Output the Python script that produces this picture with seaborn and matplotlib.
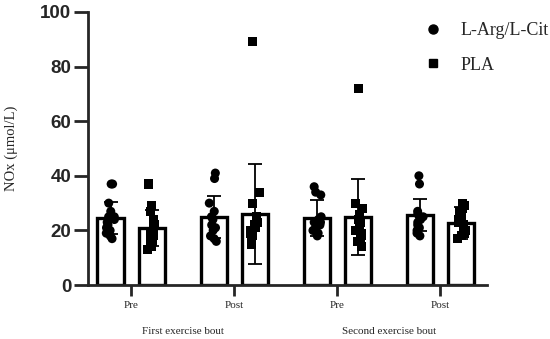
import numpy as np
import pandas as pd
import matplotlib.pyplot as plt
import seaborn as sns
from matplotlib.lines import Line2D

sns.set_style("ticks")
plt.rcParams['font.family'] = ['Liberation Serif', 'DejaVu Sans']

# kategoriler ve gruplar
zamanlar = ["B1 Pre", "B1 Post", "B2 Pre", "B2 Post"]
etiketler = ["Pre", "Post", "Pre", "Post"]
gruplar = ["L-Arg/L-Cit", "PLA"]

# ortalamalar ve standart sapmalar
ort_arg = [24.5, 24.9, 24.5, 25.6]
ort_pla = [20.9, 26.0, 24.9, 22.7]
sd_arg = [5.9, 7.7, 6.5, 5.9]
sd_pla = [6.6, 18.2, 13.8, 6.0]

# bireysel noktalar
arg_b1_pre = [37, 37, 30, 27, 25, 24, 23, 22, 21, 20, 19, 18, 17, 25]
pla_b1_pre = [37, 29, 27, 24, 22, 21, 20, 19, 18, 17, 16, 15, 14, 13]
arg_b1_post = [41, 39, 30, 27, 25, 24, 22, 21, 20, 18, 17, 16, 25]
pla_b1_post = [89, 34, 30, 25, 24, 23, 22, 21, 20, 19, 18, 17, 16, 15]
arg_b2_pre = [36, 34, 33, 25, 24, 23, 22, 21, 20, 19, 18, 20, 23]
pla_b2_pre = [72, 30, 28, 26, 24, 22, 20, 19, 18, 17, 16, 14, 23]
arg_b2_post = [40, 37, 27, 26, 25, 25, 24, 23, 22, 21, 20, 19, 18]
pla_b2_post = [30, 29, 28, 27, 25, 24, 23, 22, 21, 20, 19, 18, 17]

noktalar = {
    ("B1 Pre", "L-Arg/L-Cit"): arg_b1_pre, ("B1 Pre", "PLA"): pla_b1_pre,
    ("B1 Post", "L-Arg/L-Cit"): arg_b1_post, ("B1 Post", "PLA"): pla_b1_post,
    ("B2 Pre", "L-Arg/L-Cit"): arg_b2_pre, ("B2 Pre", "PLA"): pla_b2_pre,
    ("B2 Post", "L-Arg/L-Cit"): arg_b2_post, ("B2 Post", "PLA"): pla_b2_post,
}
satirlar = []
for (z, g), vals in noktalar.items():
    for v in vals:
        satirlar.append({"zaman": z, "grup": g, "deger": v})
df_nokta = pd.DataFrame(satirlar)

df_ort = pd.DataFrame({
    "zaman": zamanlar * 2,
    "grup": [gruplar[0]] * 4 + [gruplar[1]] * 4,
    "ort": ort_arg + ort_pla,
})

fig = plt.figure(figsize=(5.5, 3.39), dpi=100)
ax = fig.add_axes([0.16, 0.159, 0.725, 0.806])

sns.barplot(data=df_ort, x="zaman", y="ort", hue="grup", order=zamanlar,
            hue_order=gruplar, palette=["white", "white"], edgecolor="black",
            linewidth=2.4, width=0.8, gap=0.36, legend=False, ax=ax, zorder=1)

# hata çubukları
x = np.arange(len(zamanlar))
ax.errorbar(x - 0.2, ort_arg, yerr=sd_arg, fmt="none", ecolor="black",
            elinewidth=1.3, capsize=5, capthick=1.3, zorder=2)
ax.errorbar(x + 0.2, ort_pla, yerr=sd_pla, fmt="none", ecolor="black",
            elinewidth=1.3, capsize=5, capthick=1.3, zorder=2)

# noktalar
np.random.seed(3)
for g, m in zip(gruplar, ["o", "s"]):
    sub = df_nokta[df_nokta["grup"] == g]
    sns.stripplot(data=sub, x="zaman", y="deger", order=zamanlar,
                  hue="grup", hue_order=gruplar, dodge=True,
                  palette=["black", "black"], marker=m, size=6.5, jitter=0.09,
                  legend=False, ax=ax, zorder=3)

ax.set_xlim(-0.42, 3.45)
ax.set_ylim(0, 100)
ax.set_yticks([0, 20, 40, 60, 80, 100])
ax.set_xticks(x)
ax.set_xticklabels(etiketler, fontsize=8)
for t in ax.get_yticklabels():
    t.set_family("Liberation Sans")
    t.set_fontweight("bold")
    t.set_fontsize(13.5)
ax.set_xlabel("")
ax.set_ylabel("NOx (μmol/L)", fontsize=10.5, labelpad=16)
ax.tick_params(axis="y", width=2, length=10, pad=2)
ax.tick_params(axis="x", width=2, length=8)
sns.despine(ax=ax)
ax.spines["left"].set_linewidth(2)
ax.spines["bottom"].set_linewidth(2)

# bölüm etiketleri
ax.text(0.5, -0.17, "First exercise bout", transform=ax.get_xaxis_transform(),
        ha="center", va="center", fontsize=8)
ax.text(2.5, -0.17, "Second exercise bout", transform=ax.get_xaxis_transform(),
        ha="center", va="center", fontsize=8)

handles = [Line2D([], [], marker="o", color="black", linestyle="none", markersize=6.5),
           Line2D([], [], marker="s", color="black", linestyle="none", markersize=5.5)]
fig.legend(handles, gruplar, loc="upper left", bbox_to_anchor=(0.755, 0.955),
           frameon=False, fontsize=13, handlelength=1.2, handletextpad=0.9,
           labelspacing=0.95, borderaxespad=0)

plt.savefig("out.png", dpi=100)
